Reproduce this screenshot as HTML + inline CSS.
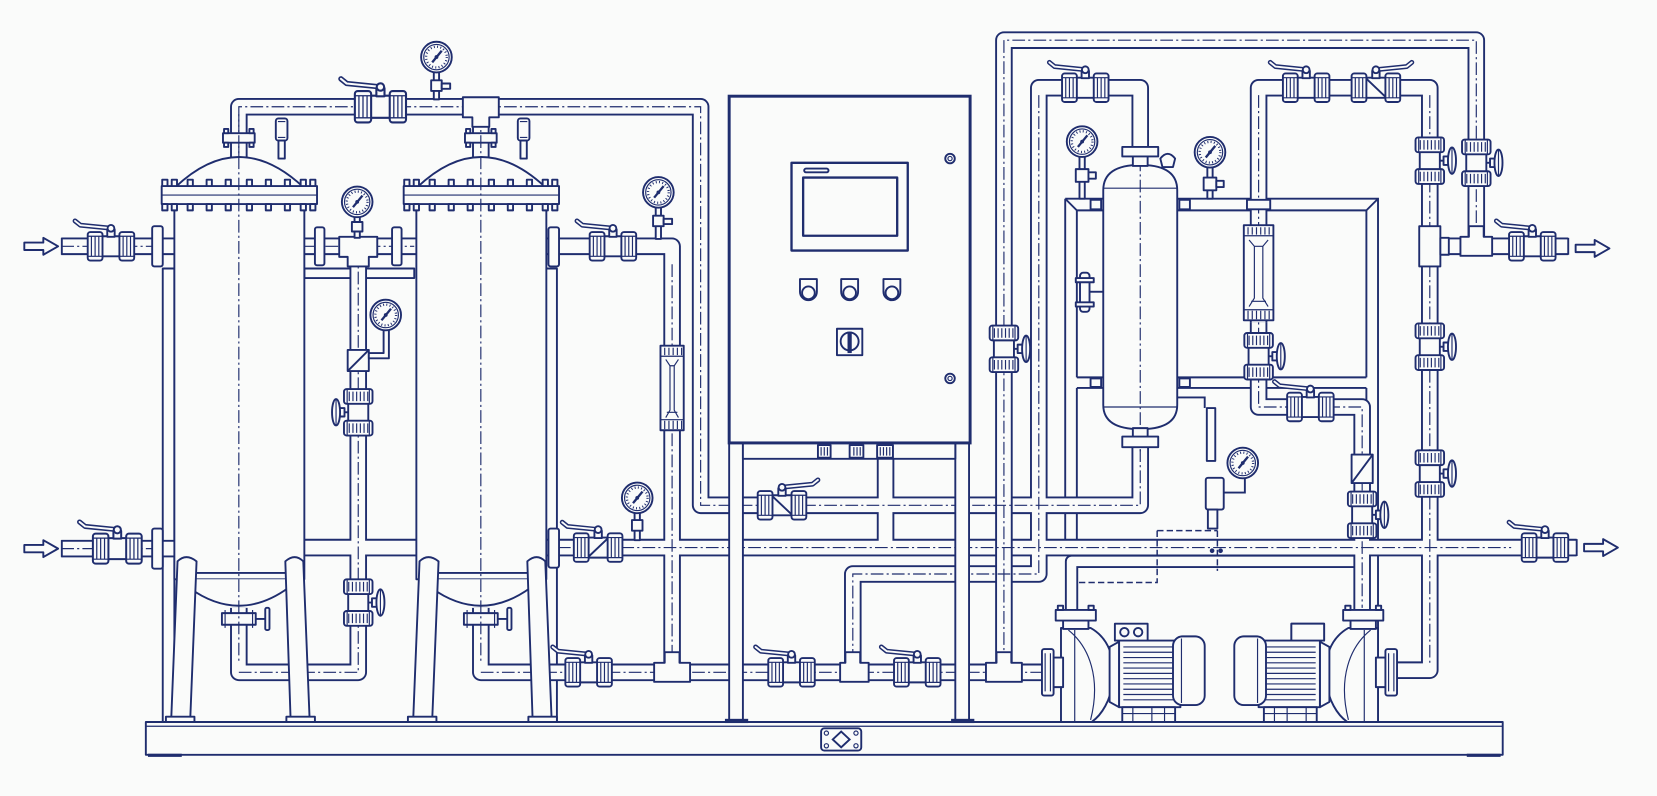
<!DOCTYPE html>
<html><head><meta charset="utf-8">
<style>
html,body{margin:0;padding:0;background:#fafbfa;}
svg{display:block;}
.f{fill:#fafbfa;stroke:#1f2d6e;stroke-width:1.8;stroke-linejoin:round}
.n{fill:none;stroke:#1f2d6e;stroke-width:1.8}
.t{fill:none;stroke:#1f2d6e;stroke-width:1.1}
.c{fill:none;stroke:#1f2d6e;stroke-width:1.1;stroke-dasharray:12 3 2 3}
.d{fill:none;stroke:#1f2d6e;stroke-width:1.4;stroke-dasharray:6 3}
.po{fill:none;stroke:#1f2d6e;stroke-width:16.6;stroke-linejoin:round}
.pi{fill:none;stroke:#fafbfa;stroke-width:13;stroke-linejoin:round}
.so{fill:none;stroke:#1f2d6e;stroke-width:12.6;stroke-linejoin:round}
.si{fill:none;stroke:#fafbfa;stroke-width:9;stroke-linejoin:round}
.lvo{fill:none;stroke:#1f2d6e;stroke-width:4.6;stroke-linecap:round;stroke-linejoin:round}
.lvi{fill:none;stroke:#fafbfa;stroke-width:1.8;stroke-linecap:round;stroke-linejoin:round}
.k{fill:#1f2d6e}
</style></head><body>
<svg width="1657" height="796" viewBox="0 0 1568 753" preserveAspectRatio="none" xmlns="http://www.w3.org/2000/svg">
<defs>
<g id="u"><rect x="-7" y="-13.5" width="14" height="27" rx="2.5" class="f"/><path d="M-3.5,-10V10M0,-10V10M3.5,-10V10M-7,-9.5H7M-7,9.5H7" class="t"/></g>
<g id="uv"><rect x="-13.5" y="-7" width="27" height="14" rx="2.5" class="f"/><path d="M-9,-4.5V4.5M-5.5,-4.5V4.5M-2,-4.5V4.5M1.5,-4.5V4.5M5,-4.5V4.5M8.5,-4.5V4.5M-10.5,-7V7M10.5,-7V7" class="t"/></g>
<g id="bv"><rect x="-9" y="-9.5" width="18" height="19" class="f"/><use href="#u" x="-15"/><use href="#u" x="15"/><path d="M1,-17L-29,-20L-34,-24" class="lvo"/><path d="M1,-17L-29,-20L-34,-24" class="lvi"/><rect x="-3.5" y="-16" width="7" height="7" class="f"/><circle cx="0" cy="-17" r="3.2" class="f"/></g>
<g id="cv"><rect x="-10" y="-9.5" width="20" height="19" class="f"/><path d="M-10,9.5L10,-9.5" class="n"/><use href="#u" x="-16"/><use href="#u" x="16"/><path d="M1,-17L-29,-20L-34,-24" class="lvo"/><path d="M1,-17L-29,-20L-34,-24" class="lvi"/><rect x="-3.5" y="-16" width="7" height="7" class="f"/><circle cx="0" cy="-17" r="3.2" class="f"/></g>
<g id="vv"><rect x="-9.5" y="-9" width="19" height="18" class="f"/><use href="#uv" y="-15"/><use href="#uv" y="15"/><path d="M9.5,0H17" class="n"/><rect x="13" y="-4" width="5" height="8" class="f"/><ellipse cx="21" cy="0" rx="3.8" ry="12.5" class="f"/><path d="M21,-12V12" class="t"/></g>
<g id="g"><circle r="14.5" class="f"/><circle r="12" class="t"/><circle r="9.8" fill="none" stroke="#1f2d6e" stroke-width="2.2" stroke-dasharray="0.9 2.2"/><path d="M-4,5L5,-6" stroke="#1f2d6e" stroke-width="2.2"/><circle r="1.8" class="k"/></g>
<g id="filter">
<rect x="-61" y="190" width="123" height="358" class="f"/>
<path d="M-47,548V556Q0,590 47,556V548" class="f"/>
<line x1="-50" y1="542" x2="50" y2="542" class="n"/>
<path d="M-60,177Q0,120 61,177Z" class="f"/>
<rect x="-73" y="176" width="147" height="17" class="f"/>
<line x1="-73" y1="184.5" x2="74" y2="184.5" class="t"/>
<path class="f" d="M-72.5,170h5v6h-5zM-63.5,170h5v6h-5zM-48.5,170h5v6h-5zM-30.5,170h5v6h-5zM-12.5,170h5v6h-5zM7.5,170h5v6h-5zM25.5,170h5v6h-5zM43.5,170h5v6h-5zM58.5,170h5v6h-5zM67.5,170h5v6h-5zM-72.5,193h5v6h-5zM-63.5,193h5v6h-5zM-48.5,193h5v6h-5zM-30.5,193h5v6h-5zM-12.5,193h5v6h-5zM7.5,193h5v6h-5zM25.5,193h5v6h-5zM43.5,193h5v6h-5zM58.5,193h5v6h-5zM67.5,193h5v6h-5z"/>
<rect x="-15" y="126" width="30" height="9" class="f"/>
<path class="f" d="M-14,122h4v4h-4zM10,122h4v4h-4zM-14,135h4v4h-4zM10,135h4v4h-4z"/>
<rect x="35" y="112" width="11" height="21" rx="2.5" class="f"/>
<path d="M37,115H44M37,130H44" class="t"/>
<rect x="37.5" y="133" width="6" height="17" class="f"/>
<path d="M-58,531Q-50,523 -40,531L-46,681H-64Z" class="f"/>
<path d="M44,531Q53,523 61,531L67,681H49Z" class="f"/>
<rect x="-69" y="678" width="27" height="5" class="f"/>
<rect x="45" y="678" width="27" height="5" class="f"/>
<rect x="-16" y="580" width="32" height="11" class="f"/>
<path d="M-13,577v17M13,577v17" class="t"/>
<path d="M16,585.5H26" class="n"/>
<rect x="25" y="575" width="4" height="21" rx="1.5" class="f"/>
<line x1="0" y1="108" x2="0" y2="628" class="c"/>
</g>
<g id="pump">
<path class="f" d="M1004,594H1032C1050,604 1056,625 1053,645C1051,662 1043,676 1033,683H1004Z"/>
<path class="t" d="M1011,596C1031,612 1042,642 1032,681M1017,596V683"/>
<rect x="996" y="622" width="10" height="28" class="f"/>
<rect x="986" y="614" width="11" height="44" rx="2" class="f"/>
<path class="t" d="M989,618V654M994,618V654"/>
<rect x="1006" y="586" width="24" height="9" class="f"/>
<rect x="999" y="577" width="38" height="10" class="f"/>
<path class="f" d="M1001,573h5v4h-5zM1030,573h5v4h-5z"/>
<path class="f" d="M1050,612L1059,607V669L1050,664Z"/>
<rect x="1059" y="606" width="58" height="63" class="f"/>
<path class="t" d="M1063,612H1113M1063,617H1113M1063,622H1113M1063,627H1113M1063,632H1113M1063,637H1113M1063,642H1113M1063,647H1113M1063,652H1113M1063,657H1113M1063,662H1113"/>
<rect x="1110" y="602" width="30" height="65" rx="9" class="f"/>
<path class="t" d="M1118,604V665"/>
<rect x="1055" y="590" width="31" height="16" class="f"/>
<circle cx="1064" cy="598" r="4" class="n"/><circle cx="1077" cy="598" r="4" class="n"/>
<rect x="1062" y="669" width="50" height="14" class="f"/>
<path class="t" d="M1072,669V683M1090,669V683M1102,669V683M1062,675H1112"/>
</g>
</defs>

<rect x="0" y="0" width="1568" height="753" fill="#fafbfa"/>

<!-- base -->
<rect x="138" y="683" width="1284" height="31" class="f"/>
<line x1="138" y1="687" x2="1422" y2="687" class="t"/>
<rect x="140" y="713" width="32" height="3" class="k"/>
<rect x="1388" y="713" width="32" height="3" class="k"/>
<rect x="777" y="689" width="38" height="21" rx="3" class="f"/>
<path d="M796,692L804,699.5L796,707L788,699.5Z" class="n"/>
<circle cx="782" cy="693.5" r="2" class="t"/><circle cx="810" cy="693.5" r="2" class="t"/><circle cx="782" cy="705.5" r="2" class="t"/><circle cx="810" cy="705.5" r="2" class="t"/>

<!-- filter frame -->
<rect x="154" y="254" width="11" height="429" class="f"/>
<rect x="516" y="254" width="11" height="429" class="f"/>
<rect x="288" y="254" width="104" height="9" class="f"/>

<!-- tank frame -->
<path class="n" d="M1008,188H1304V683M1019,199H1293M1008,188L1019,199M1304,188L1293,199M1008,188V520M1019,199V357M1019,367V520M1293,199V357M1293,367V520M1019,357H1293M1019,367H1293"/>

<!-- pipes -->
<path class="so" d="M1014,580V531H1289"/>
<path class="si" d="M1014,580V531H1289"/>
<g class="po">
<path d="M58,233H166"/><path d="M286,233H394"/><path d="M514,233H636V636"/>
<path d="M226,150V101H663V478H1079V420"/><path d="M455,150V101"/>
<path d="M226,575V636H339V233"/><path d="M455,575V636H988"/>
<path d="M58,519H166"/><path d="M286,518H394"/><path d="M514,518H1492"/>
<path d="M838,434V518"/>
<path d="M1079,140V83H983V543H807V636"/>
<path d="M1191,305V83H1353V634H1322"/>
<path d="M1191,305V385H1289V580"/>
<path d="M1353,233H1484"/>
</g>
<g class="pi">
<path d="M58,233H166"/><path d="M286,233H394"/><path d="M514,233H636V636"/>
<path d="M226,150V101H663V478H1079V420"/><path d="M455,150V101"/>
<path d="M226,575V636H339V233"/><path d="M455,575V636H988"/>
<path d="M58,519H166"/><path d="M286,518H394"/><path d="M514,518H1492"/>
<path d="M838,434V518"/>
<path d="M1079,140V83H983V543H807V636"/>
<path d="M1191,305V83H1353V634H1322"/>
<path d="M1191,305V385H1289V580"/>
<path d="M1353,233H1484"/>
</g>
<path class="po" d="M950,636V38H1397V233"/>
<path class="pi" d="M950,636V38H1397V233"/>
<path class="n" d="M58.5,225V241M58.5,511V527M1484,225V241M1492,510V526"/>

<!-- centerlines -->
<path class="c" d="M226,150V101H663V478H1079V420"/>
<path class="c" d="M455,636H988M226,636H339V240M528,518H1430M636,250V630M983,90V543H807V630M1191,90V385H1289V575M1353,90V630M58,233H145M58,519H145M288,233H392"/>
<path class="c" d="M950,630V38H1397V225"/>

<!-- panel stand -->
<rect x="690" y="419" width="13" height="264" class="f"/>
<rect x="904" y="419" width="13" height="264" class="f"/>
<rect x="703" y="419" width="201" height="15" class="f"/>
<rect x="686" y="680" width="22" height="4" class="k"/>
<rect x="900" y="680" width="22" height="4" class="k"/>
<rect x="774" y="421" width="12" height="12" class="f"/><rect x="804" y="421" width="13" height="12" class="f"/><rect x="830" y="421" width="15" height="12" class="f"/>
<path class="t" d="M777,423V431M780,423V431M783,423V431M808,423V431M811,423V431M814,423V431M833,423V431M836,423V431M839,423V431M842,423V431"/>

<!-- control panel -->
<rect x="690" y="91" width="228" height="328" fill="#fafbfa" stroke="#1f2d6e" stroke-width="2.8"/>
<rect x="749" y="154" width="110" height="83" class="f" style="stroke-width:2.2"/>
<rect x="760" y="168" width="89" height="55" class="f" style="stroke-width:2.2"/>
<rect x="761" y="159.5" width="23" height="3.5" rx="1.7" class="f"/>
<path class="f" d="M757,264H773V276A8,8 0 0 1 757,276Z"/><circle cx="765" cy="277" r="6" class="n"/>
<path class="f" d="M796,264H812V276A8,8 0 0 1 796,276Z"/><circle cx="804" cy="277" r="6" class="n"/>
<path class="f" d="M836,264H852V276A8,8 0 0 1 836,276Z"/><circle cx="844" cy="277" r="6" class="n"/>
<rect x="792" y="311" width="24" height="25" class="f"/>
<circle cx="804" cy="323" r="8.5" class="n"/>
<path d="M804,314V334" stroke="#1f2d6e" stroke-width="4"/>
<circle cx="899" cy="150" r="4.5" class="n"/><circle cx="899" cy="150" r="2" class="t"/>
<circle cx="899" cy="358" r="4.5" class="n"/><circle cx="899" cy="358" r="2" class="t"/>

<!-- filters -->
<use href="#filter" transform="translate(226,0)"/>
<use href="#filter" transform="translate(455,0)"/>

<!-- flanges -->
<rect x="144" y="214" width="10" height="38" rx="2" class="f"/>
<rect x="144" y="500" width="10" height="38" rx="2" class="f"/>
<rect x="298" y="215" width="9" height="36" rx="2" class="f"/>
<rect x="371" y="215" width="9" height="36" rx="2" class="f"/>
<rect x="519" y="215" width="10" height="37" rx="2" class="f"/>
<rect x="519" y="500" width="10" height="37" rx="2" class="f"/>

<!-- tees -->
<path class="f" d="M438,92H472V111H463V120H447V111H438Z"/>
<path class="f" d="M321,224H357V243H349V252H329V243H321Z"/>
<path class="f" d="M619,627H629V617H643V627H653V645H619Z"/>
<path class="f" d="M795,627H800V617H814V627H822V645H795Z"/>
<path class="f" d="M933,627H943V617H957V627H967V645H933Z"/>
<rect x="1343" y="214" width="20" height="38" class="f"/><rect x="1363" y="225" width="8" height="16" class="f"/>
<path class="f" d="M1382,224H1390V214H1404V224H1412V242H1382Z"/>

<!-- tank -->
<path class="f" d="M1044,180Q1044,156 1079,156Q1114,156 1114,180V383Q1114,406 1079,406Q1044,406 1044,383Z"/>
<line x1="1044" y1="178" x2="1114" y2="178" class="t"/>
<line x1="1044" y1="385" x2="1114" y2="385" class="t"/>
<line x1="1079" y1="150" x2="1079" y2="428" class="c"/>
<rect x="1062" y="139" width="34" height="9" class="f"/>
<rect x="1072" y="148" width="14" height="9" class="f"/>
<rect x="1072" y="405" width="14" height="9" class="f"/>
<rect x="1062" y="413" width="34" height="10" class="f"/>
<path class="f" d="M1100,158L1098,150Q1105,141 1112,150L1110,158Z"/>
<rect x="1022" y="258" width="9" height="37" rx="3" class="f"/>
<rect x="1018" y="263" width="17" height="4" class="f"/><rect x="1018" y="286" width="17" height="4" class="f"/>
<path class="n" d="M1031,276H1044"/>
<path class="f" d="M1032,189h10v9h-10zM1116,189h10v9h-10zM1032,358h10v8h-10zM1116,358h10v8h-10zM1180,189h22v9h-22z"/>

<!-- instrument near tank -->
<path class="n" d="M1114,376H1140V386"/>
<rect x="1142" y="386" width="8" height="50" class="f"/>
<rect x="1141" y="452" width="17" height="30" rx="2" class="f"/>
<path class="n" d="M1158,466H1178V453"/>
<rect x="1143" y="482" width="9" height="18" class="f"/>
<use href="#g" transform="translate(1176,438)"/>
<path class="d" d="M1095,502H1152M1095,502V551H1019M1152,502V540"/>
<circle cx="1147" cy="521" r="2.2" class="k"/><circle cx="1155" cy="521" r="2.2" class="k"/>

<!-- pumps -->
<use href="#pump"/>
<use href="#pump" transform="translate(2308,0) scale(-1,1)"/>
<rect x="1222" y="590" width="31" height="16" class="f"/>

<!-- rotameters -->
<rect x="625" y="327" width="22" height="80" class="f"/>
<path class="t" d="M625,337H647M625,397H647M629,329V336M633,329V336M637,329V336M641,329V336M645,329V336M629,398V406M633,398V406M637,398V406M641,398V406M645,398V406M630,340L634,346V388L630,395M642,340L638,346V388L642,395M634,346H638M631,390H641"/>
<rect x="1177" y="213" width="28" height="90" class="f"/>
<path class="t" d="M1177,223H1205M1177,293H1205M1181,215V222M1185,215V222M1189,215V222M1193,215V222M1197,215V222M1201,215V222M1181,294V302M1185,294V302M1189,294V302M1193,294V302M1197,294V302M1201,294V302M1182,227L1187,233V282L1182,290M1200,227L1195,233V282L1200,290M1187,233H1195M1184,285H1198"/>

<!-- vertical check valves -->
<rect x="329" y="331" width="20" height="20" class="f"/><path class="n" d="M329,351L349,331"/>
<rect x="1279" y="430" width="20" height="27" class="f"/><path class="n" d="M1279,457L1299,430"/>

<!-- horizontal valves -->
<use href="#bv" transform="translate(105,233)"/>
<use href="#bv" transform="translate(111,519) scale(1.05)"/>
<use href="#bv" transform="translate(360,101) scale(1.1)"/>
<use href="#bv" transform="translate(580,233)"/>
<use href="#cv" transform="translate(566,518)"/>
<use href="#cv" transform="translate(740,478) scale(-1,1)"/>
<use href="#bv" transform="translate(557,636)"/>
<use href="#bv" transform="translate(749,636)"/>
<use href="#bv" transform="translate(868,636)"/>
<use href="#bv" transform="translate(1027,83)"/>
<use href="#bv" transform="translate(1236,83)"/>
<use href="#cv" transform="translate(1302,83) scale(-1,1)"/>
<use href="#bv" transform="translate(1240,385)"/>
<use href="#bv" transform="translate(1450,233)"/>
<use href="#bv" transform="translate(1462,518)"/>

<!-- vertical valves -->
<use href="#vv" transform="translate(339,390) scale(-1,1)"/>
<use href="#vv" transform="translate(339,570)"/>
<use href="#vv" transform="translate(950,330)"/>
<use href="#vv" transform="translate(1191,337)"/>
<use href="#vv" transform="translate(1353,152)"/>
<use href="#vv" transform="translate(1353,328)"/>
<use href="#vv" transform="translate(1353,448)"/>
<use href="#vv" transform="translate(1397,154)"/>
<use href="#vv" transform="translate(1289,487)"/>

<!-- gauges with stems -->
<rect x="410.5" y="67" width="5" height="27" class="f"/><rect x="408" y="76" width="10" height="10" class="f"/><rect x="418" y="79" width="8" height="5" class="f"/>
<use href="#g" transform="translate(413,54)"/>
<rect x="335.5" y="204" width="5" height="21" class="f"/><rect x="333" y="210" width="10" height="9" class="f"/>
<use href="#g" transform="translate(338,191)"/>
<path class="f" d="M349,339H368V312H363V334H349Z"/>
<use href="#g" transform="translate(365,298)"/>
<rect x="620.5" y="196" width="5" height="30" class="f"/><rect x="618" y="204" width="10" height="10" class="f"/><rect x="628" y="207" width="8" height="5" class="f"/>
<use href="#g" transform="translate(623,182)"/>
<rect x="600.5" y="485" width="5" height="26" class="f"/><rect x="598" y="492" width="10" height="10" class="f"/>
<use href="#g" transform="translate(603,471)"/>
<rect x="1021.5" y="148" width="5" height="40" class="f"/><rect x="1018" y="160" width="12" height="12" class="f"/><rect x="1030" y="163" width="7" height="6" class="f"/>
<use href="#g" transform="translate(1024,134)"/>
<rect x="1142.5" y="158" width="5" height="30" class="f"/><rect x="1139" y="168" width="12" height="12" class="f"/><rect x="1151" y="171" width="7" height="6" class="f"/>
<use href="#g" transform="translate(1145,144)"/>

<!-- arrows -->
<path class="f" d="M23,229.5H41V225L55,233L41,241V236.5H23Z"/>
<path class="f" d="M23,515.5H41V511L55,519L41,527V522.5H23Z"/>
<path class="f" d="M1491,231.5H1509V227L1523,235L1509,243V238.5H1491Z"/>
<path class="f" d="M1499,514.5H1517V510L1531,518L1517,526V521.5H1499Z"/>
</svg>
</body></html>
